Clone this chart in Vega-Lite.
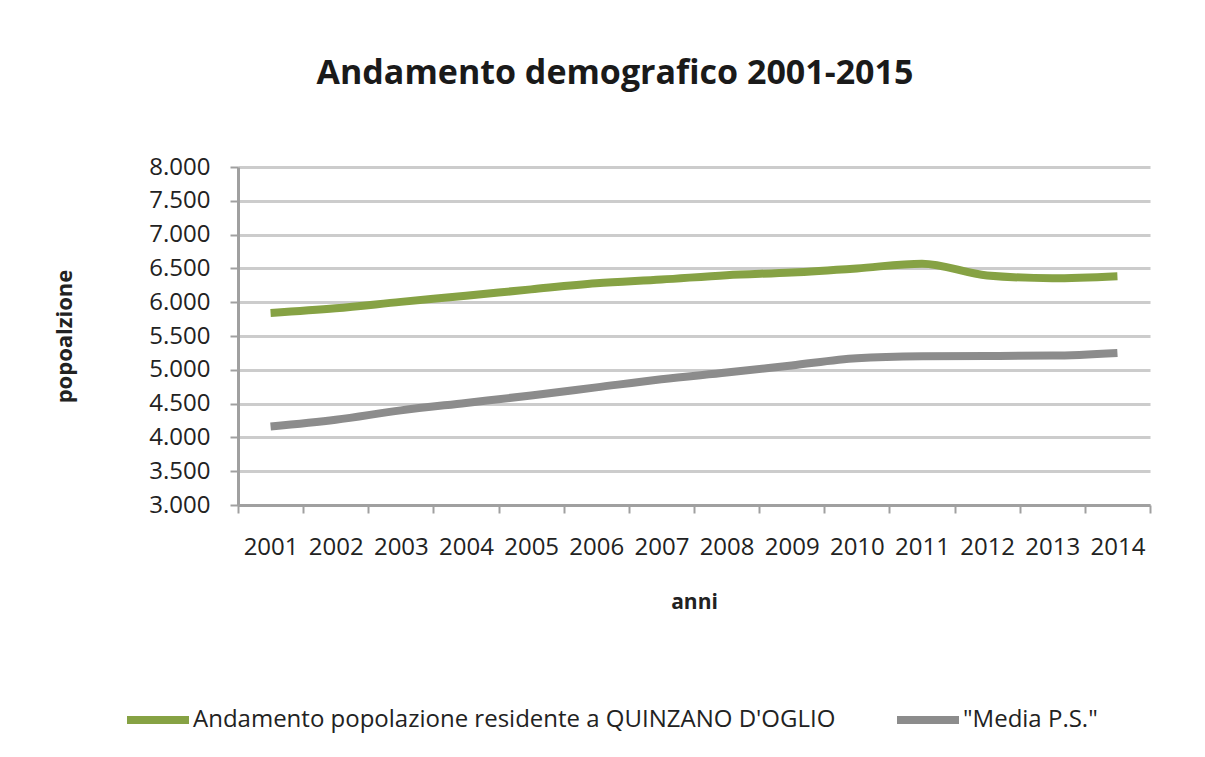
{
  "$schema": "https://vega.github.io/schema/vega-lite/v6.json",
  "width": 912,
  "height": 338,
  "autosize": {"type": "none"},
  "padding": {"left": 238, "top": 167, "right": 55, "bottom": 252},
  "background": "white",
  "title": {
    "text": "Andamento demografico 2001-2015",
    "anchor": "middle",
    "dx": -79,
    "offset": 64,
    "fontSize": 34,
    "font": "Open Sans",
    "fontWeight": "bold",
    "color": "#1a1a1a"
  },
  "data": {
    "values": [
      {"anno": "2001", "serie": "Andamento popolazione residente a QUINZANO D'OGLIO", "pop": 5840},
      {"anno": "2002", "serie": "Andamento popolazione residente a QUINZANO D'OGLIO", "pop": 5910},
      {"anno": "2003", "serie": "Andamento popolazione residente a QUINZANO D'OGLIO", "pop": 6005},
      {"anno": "2004", "serie": "Andamento popolazione residente a QUINZANO D'OGLIO", "pop": 6095},
      {"anno": "2005", "serie": "Andamento popolazione residente a QUINZANO D'OGLIO", "pop": 6190},
      {"anno": "2006", "serie": "Andamento popolazione residente a QUINZANO D'OGLIO", "pop": 6280},
      {"anno": "2007", "serie": "Andamento popolazione residente a QUINZANO D'OGLIO", "pop": 6335},
      {"anno": "2008", "serie": "Andamento popolazione residente a QUINZANO D'OGLIO", "pop": 6400},
      {"anno": "2009", "serie": "Andamento popolazione residente a QUINZANO D'OGLIO", "pop": 6440},
      {"anno": "2010", "serie": "Andamento popolazione residente a QUINZANO D'OGLIO", "pop": 6500},
      {"anno": "2011", "serie": "Andamento popolazione residente a QUINZANO D'OGLIO", "pop": 6570},
      {"anno": "2012", "serie": "Andamento popolazione residente a QUINZANO D'OGLIO", "pop": 6395},
      {"anno": "2013", "serie": "Andamento popolazione residente a QUINZANO D'OGLIO", "pop": 6355},
      {"anno": "2014", "serie": "Andamento popolazione residente a QUINZANO D'OGLIO", "pop": 6385},
      {"anno": "2001", "serie": "\"Media P.S.\"", "pop": 4160},
      {"anno": "2002", "serie": "\"Media P.S.\"", "pop": 4260},
      {"anno": "2003", "serie": "\"Media P.S.\"", "pop": 4400},
      {"anno": "2004", "serie": "\"Media P.S.\"", "pop": 4510},
      {"anno": "2005", "serie": "\"Media P.S.\"", "pop": 4620},
      {"anno": "2006", "serie": "\"Media P.S.\"", "pop": 4740},
      {"anno": "2007", "serie": "\"Media P.S.\"", "pop": 4860},
      {"anno": "2008", "serie": "\"Media P.S.\"", "pop": 4960},
      {"anno": "2009", "serie": "\"Media P.S.\"", "pop": 5065},
      {"anno": "2010", "serie": "\"Media P.S.\"", "pop": 5170},
      {"anno": "2011", "serie": "\"Media P.S.\"", "pop": 5200},
      {"anno": "2012", "serie": "\"Media P.S.\"", "pop": 5205},
      {"anno": "2013", "serie": "\"Media P.S.\"", "pop": 5210},
      {"anno": "2014", "serie": "\"Media P.S.\"", "pop": 5250}
    ]
  },
  "mark": {"type": "line", "strokeWidth": 8, "interpolate": "monotone", "strokeCap": "butt"},
  "encoding": {
    "x": {
      "field": "anno",
      "type": "ordinal",
      "bandPosition": 0.5,
      "scale": {"type": "band", "paddingInner": 0, "paddingOuter": 0},
      "axis": {
        "title": "anni",
        "tickBand": "extent",
        "labelAngle": 0,
        "labelFont": "Open Sans",
        "labelFontSize": 24,
        "labelColor": "#222222",
        "labelPadding": 22,
        "titleFont": "Open Sans",
        "titleFontSize": 21,
        "titleFontWeight": "bold",
        "titleColor": "#222222",
        "titlePadding": 32,
        "domainColor": "#a0a0a0",
        "domainWidth": 3,
        "tickColor": "#a0a0a0",
        "tickWidth": 2,
        "tickSize": 8,
        "grid": false
      }
    },
    "y": {
      "field": "pop",
      "type": "quantitative",
      "scale": {"domain": [3000, 8000], "nice": false, "zero": false},
      "axis": {
        "title": "popoalzione",
        "values": [3000, 3500, 4000, 4500, 5000, 5500, 6000, 6500, 7000, 7500, 8000],
        "labelExpr": "replace(format(datum.value, ','), ',', '.')",
        "labelFont": "Open Sans",
        "labelFontSize": 24,
        "labelColor": "#222222",
        "labelPadding": 20,
        "titleFont": "Open Sans",
        "titleFontSize": 22,
        "titleFontWeight": "bold",
        "titleColor": "#222222",
        "titlePadding": 72,
        "domainColor": "#a0a0a0",
        "domainWidth": 3,
        "tickColor": "#a0a0a0",
        "tickWidth": 2,
        "tickSize": 8,
        "grid": true,
        "gridColor": "#cccccc",
        "gridWidth": 3
      }
    },
    "color": {
      "field": "serie",
      "type": "nominal",
      "scale": {
        "domain": ["Andamento popolazione residente a QUINZANO D'OGLIO", "\"Media P.S.\""],
        "range": ["#86a244", "#8c8c8c"]
      },
      "legend": {
        "title": null,
        "orient": "none",
        "direction": "horizontal",
        "legendX": -115,
        "legendY": 518,
        "symbolType": "stroke",
        "symbolSize": 3844,
        "symbolStrokeWidth": 8,
        "labelFont": "Open Sans",
        "labelFontSize": 24,
        "labelColor": "#222222",
        "labelLimit": 1000,
        "labelOffset": 0,
        "columnPadding": 45
      }
    }
  },
  "config": {
    "view": {"stroke": null}
  }
}
